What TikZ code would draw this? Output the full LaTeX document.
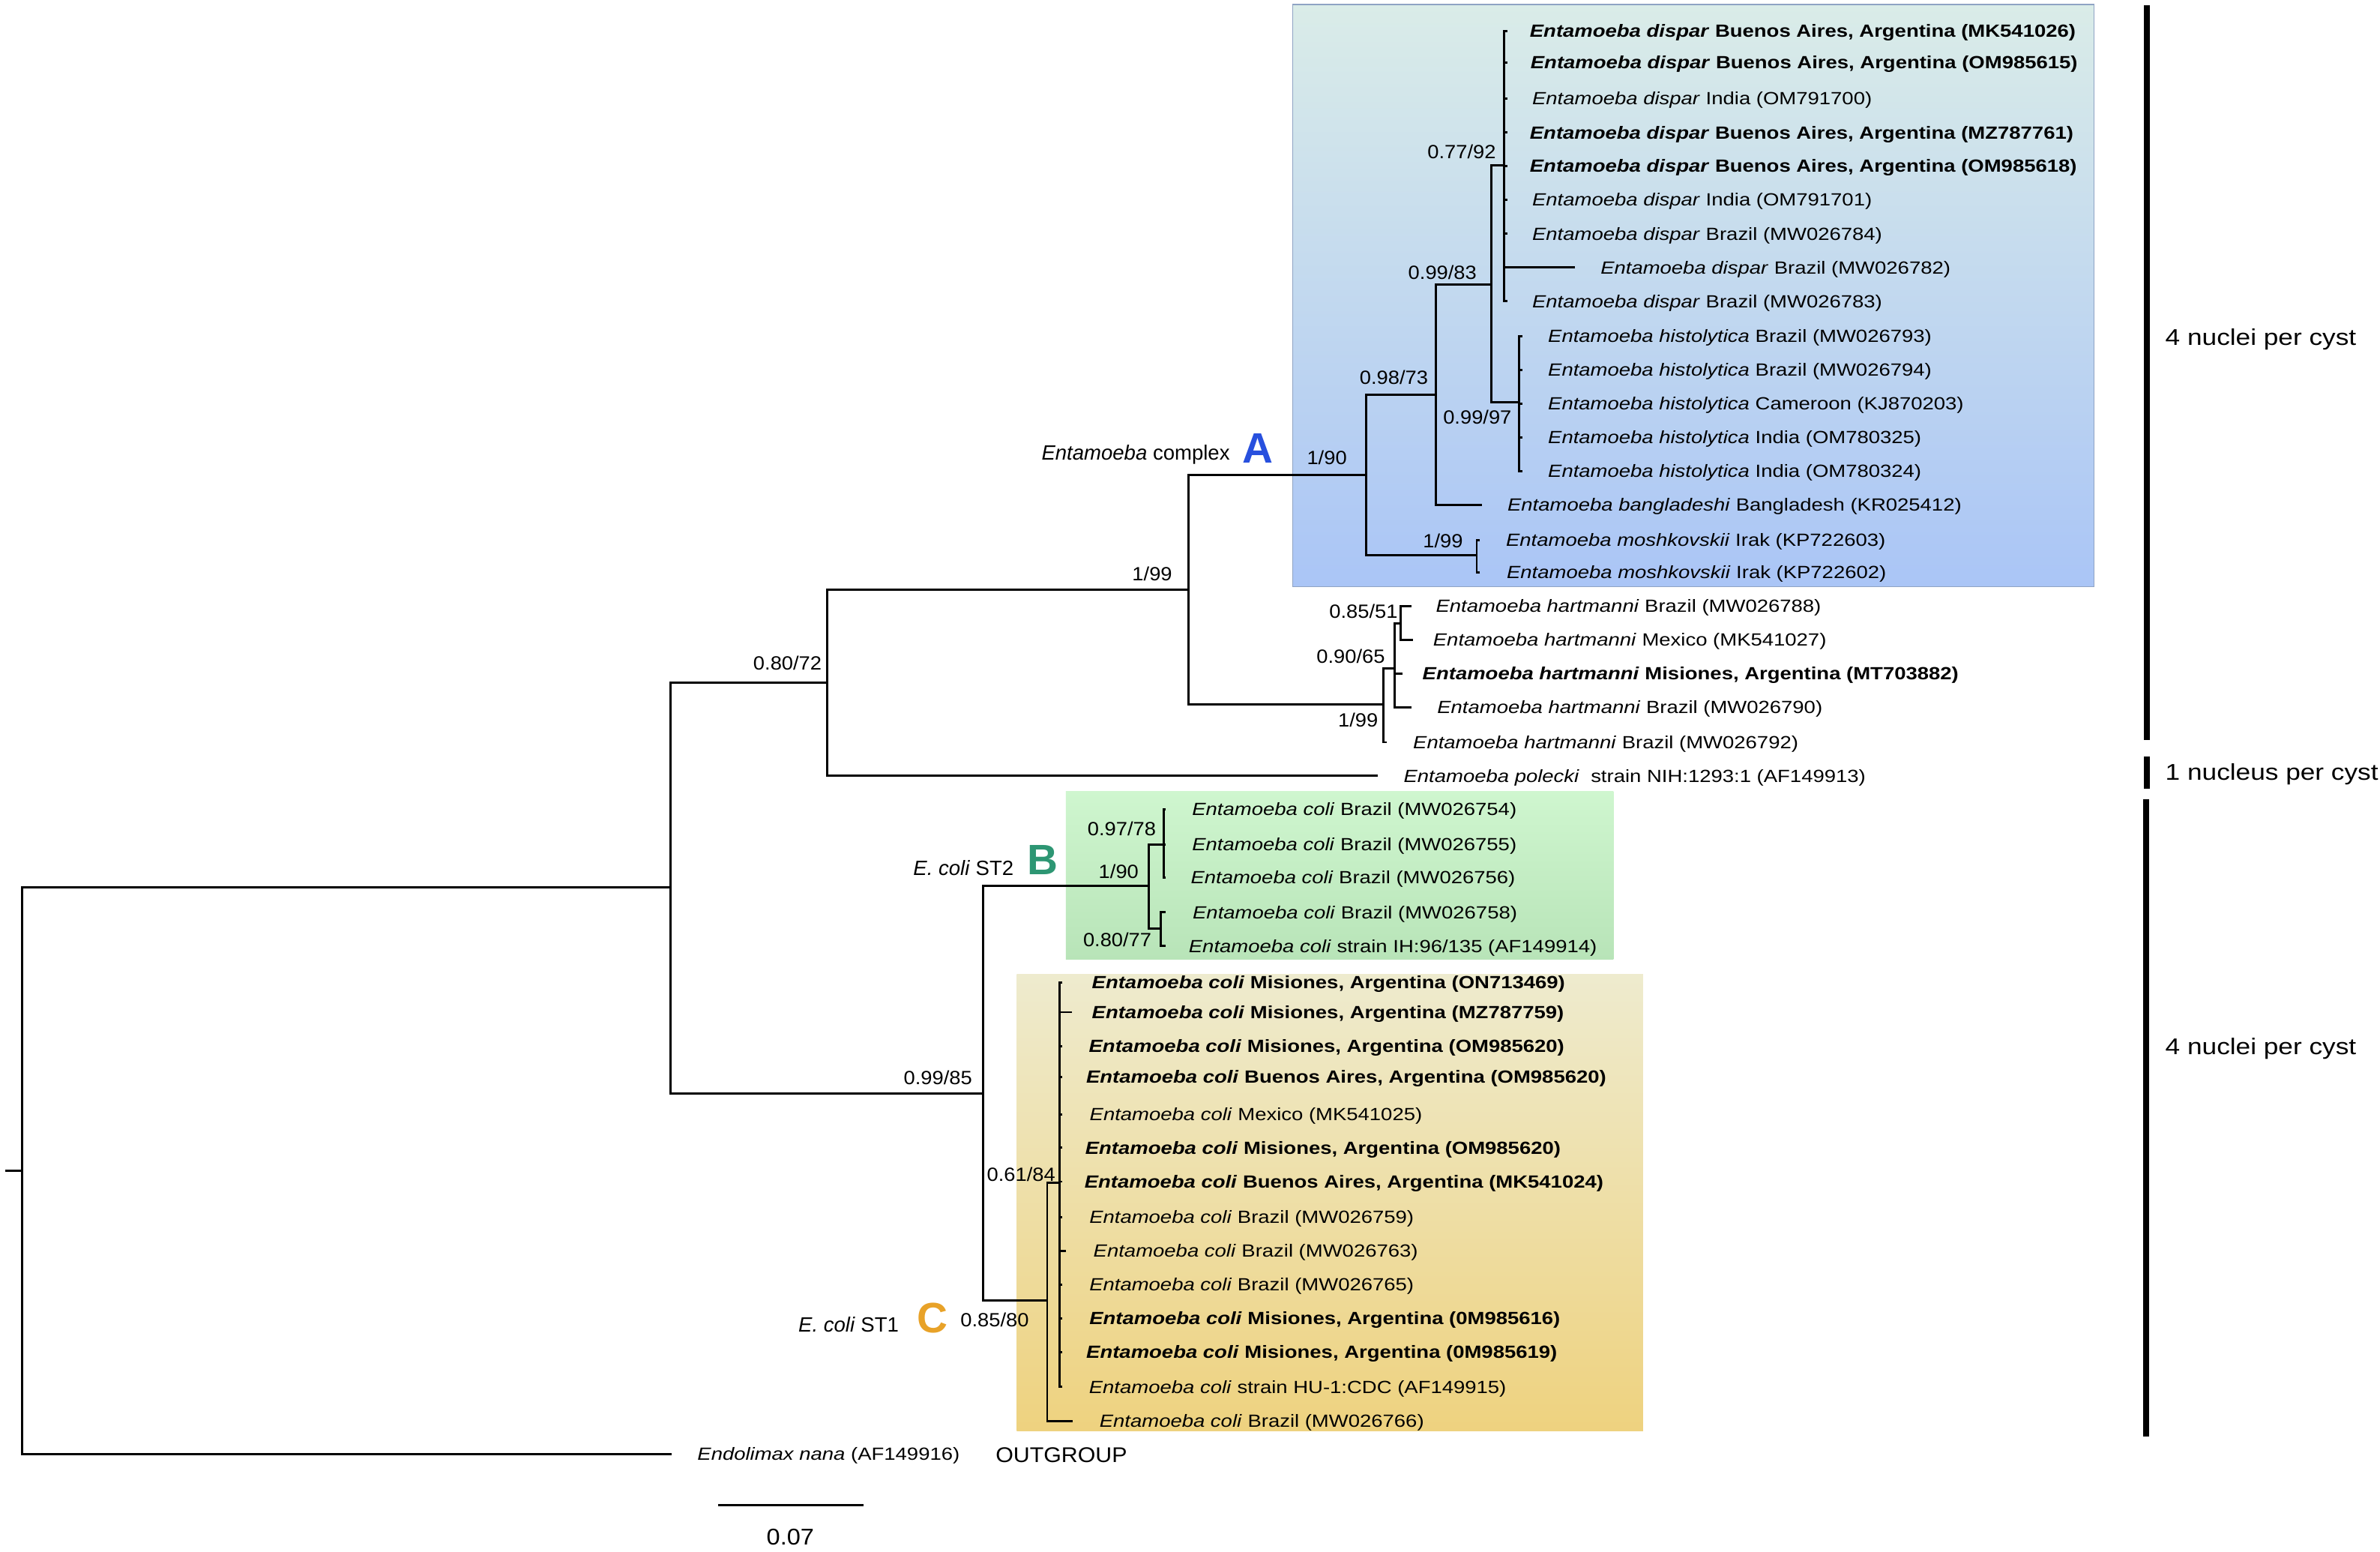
\documentclass[tikz,border=0pt]{standalone}
\usepackage{fontspec}
\setmainfont{Liberation Sans}
\newfontfamily\leaffont[FakeStretch=1.17]{Liberation Sans}
\newfontfamily\bsfont[FakeStretch=1.07]{Liberation Sans}
\newfontfamily\sidefont[FakeStretch=1.16]{Liberation Sans}
\definecolor{colA}{HTML}{2850DE}
\definecolor{colB}{HTML}{2D9673}
\definecolor{colC}{HTML}{E8A228}
\newcommand\leafat[6]{\coordinate (#1) at (#3,#4); \draw[branch] (#1) -| (#2); \node[leaf] (#1t) at (#5,#4) {#6};}
\newcommand\Ent[1]{\textit{Entamoeba #1}}
\begin{document}
\begin{tikzpicture}[x=1pt,y=-1pt,
  branch/.style={line width=1.45pt, line join=miter},
  leaf/.style={anchor=west, yshift=-1.1pt, inner sep=0pt, font=\leaffont\fontsize{11.6}{13}\selectfont},
  bs/.style={anchor=east, inner sep=0pt, font=\bsfont\fontsize{12.6}{14}\selectfont},
  grp/.style={anchor=east, inner sep=0pt, font=\fontsize{13.6}{15}\selectfont},
  big/.style={anchor=west, inner sep=0pt, font=\bfseries\fontsize{28}{30}\selectfont},
  side/.style={anchor=west, inner sep=0pt, font=\sidefont\fontsize{15}{17}\selectfont},
  bar/.style={line width=4pt}]
\useasboundingbox (0,0) rectangle (1568,1022);
\fill[white] (0,0) rectangle (1568,1022);

% clade boxes
\shade[top color={rgb,255:red,218;green,236;blue,232}, bottom color={rgb,255:red,170;green,197;blue,246}] (851.7,3) rectangle (1379.5,386.5);
\draw[line width=0.6pt, draw={rgb,255:red,143;green,163;blue,196}] (851.7,3) rectangle (1379.5,386.5);
\shade[top color={rgb,255:red,207;green,246;blue,207}, bottom color={rgb,255:red,184;green,228;blue,184}] (702.2,521.5) rectangle (1063,631.8);
\shade[top color={rgb,255:red,238;green,235;blue,206}, bottom color={rgb,255:red,238;green,210;blue,127}] (669.8,641.7) rectangle (1082.4,942.4);

% internal nodes
\coordinate (R) at (14.6,771);
\coordinate (r0) at (3.5,771);
\coordinate (N1) at (441.8,584.7);
\coordinate (N2) at (545,449.7);
\coordinate (N4) at (647.7,720.5);
\coordinate (N3) at (783,388.5);
\coordinate (nA) at (900.2,312.8);
\coordinate (H1) at (911.2,464.2);
\coordinate (n98) at (946.2,259.8);
\coordinate (nM) at (972.9,365.8);
\coordinate (n83) at (982.6,187.3);
\coordinate (nD) at (991,109);
\coordinate (nH) at (1001,265);
\coordinate (H2) at (919,440.4);
\coordinate (H3) at (922.8,410.7);
\coordinate (nB) at (756.8,583.6);
\coordinate (B1) at (766.5,556.1);
\coordinate (B2) at (764.5,611.5);
\coordinate (nC) at (689.9,856.8);
\coordinate (C2) at (698,779);

\draw[branch] (r0) -- (R);
\draw[branch] (N1) -| (R);
\draw[branch] (N2) -| (N1);
\draw[branch] (N4) -| (N1);
\draw[branch] (N3) -| (N2);
\draw[branch] (nA) -| (N3);
\draw[branch] (H1) -| (N3);
\draw[branch] (n98) -| (nA);
\draw[branch] (nM) -| (nA);
\draw[branch] (n83) -| (n98);
\draw[branch] (nD) -| (n83);
\draw[branch] (nH) -| (n83);
\draw[branch] (H2) -| (H1);
\draw[branch] (H3) -| (H2);
\draw[branch] (nB) -| (N4);
\draw[branch] (nC) -| (N4);
\draw[branch] (B1) -| (nB);
\draw[branch] (B2) -| (nB);
\draw[branch] (C2) -| (nC);

% dispar
\leafat{d1}{nD}{993}{20.6}{1007.7}{\textbf{\Ent{dispar} Buenos Aires, Argentina (MK541026)}}
\leafat{d2}{nD}{993}{41.1}{1008.2}{\textbf{\Ent{dispar} Buenos Aires, Argentina (OM985615)}}
\leafat{d3}{nD}{993}{65}{1009.3}{\Ent{dispar} India (OM791700)}
\leafat{d4}{nD}{993}{87.3}{1007.7}{\textbf{\Ent{dispar} Buenos Aires, Argentina (MZ787761)}}
\leafat{d5}{nD}{993}{109.5}{1007.7}{\textbf{\Ent{dispar} Buenos Aires, Argentina (OM985618)}}
\leafat{d6}{nD}{993}{131.7}{1009.3}{\Ent{dispar} India (OM791701)}
\leafat{d7}{nD}{993}{154}{1009.3}{\Ent{dispar} Brazil (MW026784)}
\leafat{d8}{nD}{1037.7}{176.2}{1054.3}{\Ent{dispar} Brazil (MW026782)}
\leafat{d9}{nD}{993}{198.4}{1009.3}{\Ent{dispar} Brazil (MW026783)}
% histolytica
\leafat{h1}{nH}{1003}{221.4}{1019.7}{\Ent{histolytica} Brazil (MW026793)}
\leafat{h2}{nH}{1003}{243.6}{1019.7}{\Ent{histolytica} Brazil (MW026794)}
\leafat{h3}{nH}{1003}{265.9}{1019.7}{\Ent{histolytica} Cameroon (KJ870203)}
\leafat{h4}{nH}{1003}{288}{1019.7}{\Ent{histolytica} India (OM780325)}
\leafat{h5}{nH}{1003}{310.3}{1019.7}{\Ent{histolytica} India (OM780324)}
\leafat{bg}{n98}{976.4}{332.5}{993}{\Ent{bangladeshi} Bangladesh (KR025412)}
\leafat{m1}{nM}{975}{355.6}{992}{\Ent{moshkovskii} Irak (KP722603)}
\leafat{m2}{nM}{975}{377}{992.5}{\Ent{moshkovskii} Irak (KP722602)}
% hartmanni
\leafat{k1}{H3}{929.7}{399.2}{945.8}{\Ent{hartmanni} Brazil (MW026788)}
\leafat{k2}{H3}{930.8}{421.4}{944}{\Ent{hartmanni} Mexico (MK541027)}
\leafat{k3}{H2}{924.2}{443.6}{937}{\textbf{\Ent{hartmanni} Misiones, Argentina (MT703882)}}
\leafat{k4}{H2}{929.7}{465.9}{946.7}{\Ent{hartmanni} Brazil (MW026790)}
\leafat{k5}{H1}{913.6}{488.9}{930.8}{\Ent{hartmanni} Brazil (MW026792)}
\leafat{pol}{N2}{907.7}{511}{924.6}{\Ent{polecki}\ \ strain NIH:1293:1 (AF149913)}
% coli ST2
\leafat{b1}{B1}{768}{533}{785.2}{\Ent{coli} Brazil (MW026754)}
\leafat{b2}{B1}{768}{556.4}{785.2}{\Ent{coli} Brazil (MW026755)}
\leafat{b3}{B1}{768}{578.1}{784.3}{\Ent{coli} Brazil (MW026756)}
\leafat{b4}{B2}{768}{600.9}{785.6}{\Ent{coli} Brazil (MW026758)}
\leafat{b5}{B2}{768}{623.1}{783}{\Ent{coli} strain IH:96/135 (AF149914)}
% coli ST1
\leafat{c1}{C2}{700}{647.3}{719.2}{\textbf{\Ent{coli} Misiones, Argentina (ON713469)}}
\leafat{c2}{C2}{706.4}{666.7}{719.2}{\textbf{\Ent{coli} Misiones, Argentina (MZ787759)}}
\leafat{c3}{C2}{700}{689}{717.2}{\textbf{\Ent{coli} Misiones, Argentina (OM985620)}}
\leafat{c4}{C2}{700}{709.5}{715.4}{\textbf{\Ent{coli} Buenos Aires, Argentina (OM985620)}}
\leafat{c5}{C2}{700}{734.2}{717.7}{\Ent{coli} Mexico (MK541025)}
\leafat{c6}{C2}{700}{756}{714.8}{\textbf{\Ent{coli} Misiones, Argentina (OM985620)}}
\leafat{c7}{C2}{700}{778.3}{714.3}{\textbf{\Ent{coli} Buenos Aires, Argentina (MK541024)}}
\leafat{c8}{C2}{700}{801.7}{717.5}{\Ent{coli} Brazil (MW026759)}
\leafat{c9}{C2}{702.5}{823.9}{720.2}{\Ent{coli} Brazil (MW026763)}
\leafat{c10}{C2}{700}{846.1}{717.5}{\Ent{coli} Brazil (MW026765)}
\leafat{c11}{C2}{700}{868.4}{717.5}{\textbf{\Ent{coli} Misiones, Argentina (0M985616)}}
\leafat{c12}{C2}{700}{890.6}{715.5}{\textbf{\Ent{coli} Misiones, Argentina (0M985619)}}
\leafat{c13}{C2}{700}{913.6}{717.3}{\Ent{coli} strain HU-1:CDC (AF149915)}
\leafat{c14}{nC}{706.5}{935.9}{724.2}{\Ent{coli} Brazil (MW026766)}
% outgroup
\leafat{en}{R}{442.4}{957.7}{459.3}{\textit{Endolimax nana} (AF149916)}
\node[anchor=west, inner sep=0pt, font=\bsfont\fontsize{14}{16}\selectfont] (og) at (655.8,958.4) {OUTGROUP};

% support values
\node[bs] (s1) at (985.7,100) {0.77/92};
\node[bs] (s2) at (973,179.4) {0.99/83};
\node[bs] (s3) at (941,248.6) {0.98/73};
\node[bs] (s4) at (996,274.6) {0.99/97};
\node[bs] (s5) at (887.5,301.3) {1/90};
\node[bs] (s6) at (964,356.4) {1/99};
\node[bs] (s7) at (772.4,377.8) {1/99};
\node[bs] (s8) at (921,402.5) {0.85/51};
\node[bs] (s9) at (912.6,432.1) {0.90/65};
\node[bs] (s10) at (541.5,437) {0.80/72};
\node[bs] (s11) at (908,474.1) {1/99};
\node[bs] (s12) at (761.7,545.7) {0.97/78};
\node[bs] (s13) at (750.3,574.2) {1/90};
\node[bs] (s14) at (758.8,619) {0.80/77};
\node[bs] (s15) at (640.6,710) {0.99/85};
\node[bs] (s16) at (695.4,773.7) {0.61/84};
\node[bs] (s17) at (678,869.2) {0.85/80};

% group labels
\node[grp] (gA) at (810.4,299.6) {\textit{Entamoeba} complex};
\node[big, text=colA] (LA) at (818.4,295.5) {A};
\node[grp] (gB) at (668,571.7) {\textit{E. coli} ST2};
\node[big, text=colB] (LB) at (676.6,566.3) {B};
\node[grp] (gC) at (592.3,872.5) {\textit{E. coli} ST1};
\node[big, text=colC] (LC) at (604,868) {C};

% cyst bars
\draw[bar] (1414.5,3.3) -- (1414.5,487.3);
\draw[bar] (1414.5,498.4) -- (1414.5,519.3);
\draw[bar] (1413.8,526.4) -- (1413.8,946);
\node[side] (q1) at (1426.4,223.5) {4 nuclei per cyst};
\node[side] (q2) at (1426.4,510.2) {1 nucleus per cyst};
\node[side] (q3) at (1426.4,690.6) {4 nuclei per cyst};

% scale bar
\coordinate (sb1) at (473.2,991.3);
\coordinate (sb2) at (569,991.3);
\draw[branch] (sb1) -- (sb2);
\node[inner sep=0pt, font=\bsfont\fontsize{15}{17}\selectfont] (sbl) at (520.7,1012.4) {0.07};
\end{tikzpicture}
\end{document}
